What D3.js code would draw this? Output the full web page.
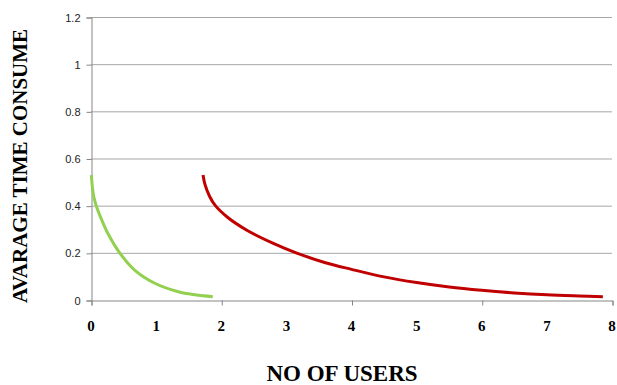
<!DOCTYPE html>
<html><head><meta charset="utf-8">
<script src="https://cdn.jsdelivr.net/npm/d3@7"></script>
<style>body{margin:0;background:#fff}</style>
</head><body>
<svg id="c" width="617" height="385"></svg>
<script>
const yTicks = [0, 0.2, 0.4, 0.6, 0.8, 1, 1.2];
const yTickLabels = ["0", "0.2", "0.4", "0.6", "0.8", "1", "1.2"];
const xTickMarks = [0, 2, 4, 6, 8];
const xTickLabels = ["0", "1", "2", "3", "4", "5", "6", "7", "8"];

const greenX = [0.005, 0.025, 0.045, 0.08, 0.158, 0.26, 0.44, 0.67, 0.98, 1.34, 1.6, 1.87];
const greenY = [0.53, 0.47, 0.435, 0.40, 0.344, 0.282, 0.20, 0.127, 0.071, 0.035, 0.022, 0.014];

const redX = [1.72, 1.75, 1.82, 1.91, 2.1, 2.4, 2.8, 3.15, 3.6, 4.0, 4.5, 5.0, 5.5, 6.0, 6.5, 7.0, 7.5, 7.86];
const redY = [0.53, 0.49, 0.44, 0.40, 0.35, 0.295, 0.24, 0.20, 0.158, 0.13, 0.098, 0.074, 0.055, 0.041, 0.03, 0.022, 0.017, 0.014];

const svg = d3.select("#c");
const x = d3.scaleLinear().domain([0, 8]).range([91, 612]);
const y = d3.scaleLinear().domain([0, 1.2]).range([300, 17]);

// gridlines
svg.append("g").selectAll("line").data(yTicks.filter(d => d > 0)).join("line")
  .attr("x1", x(0)).attr("x2", x(8))
  .attr("y1", d => y(d) + 0.5).attr("y2", d => y(d) + 0.5)
  .attr("stroke", "#a6a6a6").attr("stroke-width", 1);

// y axis
const yAxis = d3.axisLeft(y).tickValues(yTicks).tickSize(5).tickPadding(6)
  .tickFormat((d, i) => yTickLabels[i]);
const gy = svg.append("g").attr("transform", `translate(${x(0) + 0.5},0.5)`).call(yAxis);
gy.select(".domain").attr("stroke", "#868686");
gy.selectAll(".tick line").attr("stroke", "#868686");
gy.selectAll(".tick text").attr("font-family", "Liberation Sans, Arial, sans-serif")
  .attr("font-size", 11).attr("fill", "#222");

// x axis
const xAxis = d3.axisBottom(x).tickValues(xTickMarks).tickSize(5).tickFormat("");
const gx = svg.append("g").attr("transform", `translate(0.5,${y(0) + 0.5})`).call(xAxis);
gx.select(".domain").attr("stroke", "#868686");
gx.selectAll(".tick line").attr("stroke", "#868686");

// x tick labels (bold serif)
svg.append("g").selectAll("text").data(xTickLabels).join("text")
  .attr("x", (d, i) => x(i)).attr("y", 331)
  .attr("text-anchor", "middle")
  .attr("font-family", "Liberation Serif, Times New Roman, serif")
  .attr("font-weight", "bold").attr("font-size", 15).attr("fill", "#000")
  .text(d => d);

// lines
const line = d3.line().x(d => x(d[0])).y(d => y(d[1])).curve(d3.curveCatmullRom.alpha(0.5));
svg.append("path").datum(greenX.map((v, i) => [v, greenY[i]]))
  .attr("d", line).attr("fill", "none").attr("stroke", "#92D050").attr("stroke-width", 3);
svg.append("path").datum(redX.map((v, i) => [v, redY[i]]))
  .attr("d", line).attr("fill", "none").attr("stroke", "#C00000").attr("stroke-width", 3);

// titles
svg.append("text").attr("x", 342).attr("y", 381).attr("text-anchor", "middle")
  .attr("font-family", "Liberation Serif, Times New Roman, serif")
  .attr("font-weight", "bold").attr("font-size", 23).attr("fill", "#000")
  .text("NO OF USERS");
svg.append("text").attr("transform", "translate(27,166) rotate(-90)").attr("text-anchor", "middle")
  .attr("font-family", "Liberation Serif, Times New Roman, serif")
  .attr("font-weight", "bold").attr("font-size", 21).attr("fill", "#000")
  .text("AVARAGE TIME CONSUME");
</script>
</body></html>
